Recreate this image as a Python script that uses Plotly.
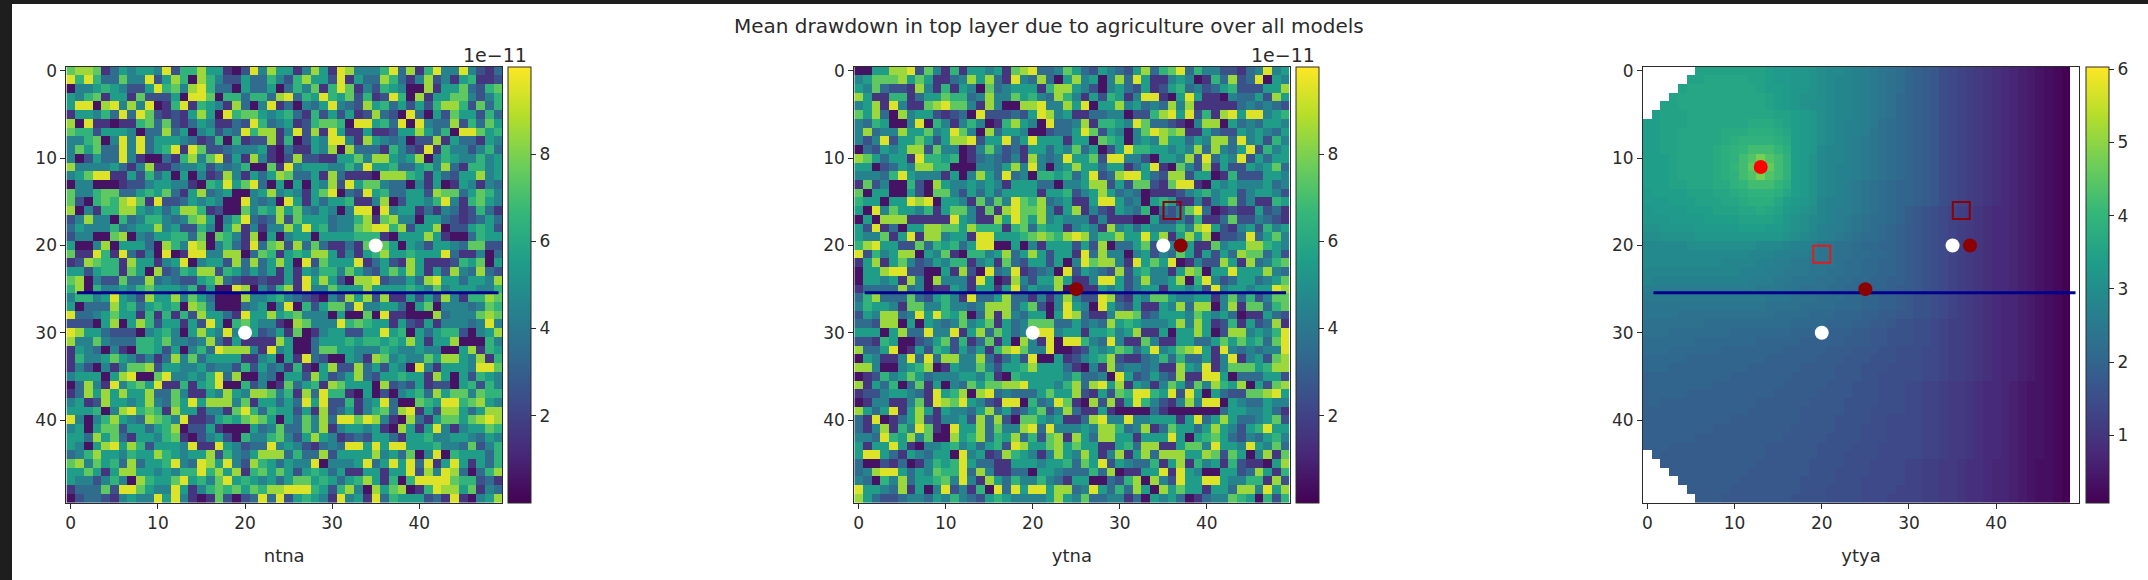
import plotly.graph_objects as go

# Cell values (units of 1e-11, one digit per cell).
ntna_rows = [
"7887135455 4926685510 2948551485 1984446938 1694494213",
"9696337449 2586086422 5336426855 2915338631 4824156112",
"0445654225 9674896330 5335036471 6971426540 0815573267",
"5467155172 2250997066 3663893659 6572612960 8155774246",
"5990894849 0169165418 3049130435 9432856352 5268862736",
"1554639397 2121585096 7754563162 5251283209 3052755263",
"8091101167 3721354113 2963451267 7609956390 9433826375",
"7662555403 3835045243 9688149281 9511511255 8536099756",
"4467049493 5554312606 1228160254 9941854340 2281533154",
"4757339493 5691972234 4451031154 8083331642 1916442463",
"4025339410 0316847925 1841028221 1557488545 8046544645",
"8444453148 1134452434 6007194555 4464955633 5648316645",
"4579911526 3505041284 1535873351 8311108886 5153255845",
"0440001224 5544106595 7930505054 8295774330 4150154143",
"7446773356 5731583450 0458454157 9032956335 5287735764",
"7206768971 9223545400 9434095153 5561148025 5469416754",
"8041668854 5358861200 7465857435 4049909455 1314312631",
"2484406346 6434785046 9323827555 3446817844 0553212353",
"3544463455 8452264058 1414485956 3447899682 5580225652",
"2440078043 5566370764 1805045505 5556661055 5851003655",
"5004805553 0864980463 1937828373 1131777505 4255437722",
"7119619314 0901994488 0376156588 5141568556 5559311403",
"1287661855 1459045528 3835850927 5559135218 5111265705",
"5525661750 8236588265 3535151546 6475325758 5152843832",
"7804227338 3432256832 1121151958 5208892335 3895535548",
"6806445467 5554615009 8042681944 7555855556 5474555446",
"4664595428 5584753000 8445643210 4285828115 2528416687",
"5033385635 6560874000 3450490625 7739445530 5704443476",
"9334575516 1616285531 9558567444 0500709110 0083444787",
"2220580586 2551529506 7544108744 4967655152 1514443494",
"9855322204 5640585494 4523517014 5522559560 5356620458",
"8447433366 5744348315 1111850035 5565665658 5155800064",
"1543041066 5250463988 8419450037 7554446544 5440058165",
"1644575424 1384735555 1145051932 0054187454 4758854816",
"1420414778 2554453442 6253416105 8228352540 9415554997",
"4555058900 7944546938 0043055285 2358325565 5185052654",
"0384194675 9116156900 6240173561 8755508232 5122056264",
"1385858558 3374115485 4887461839 6610502045 6385774766",
"4512855458 4375958884 7155353959 2261459300 7659967854",
"5556048967 6185514417 9636552518 2351467389 1528853588",
"9404685438 7649112565 7875053748 3997984108 3157757898",
"4505772553 5680225100 0534733748 1455451085 1594145576",
"5538573155 4671024520 6446742585 4123255315 5644554354",
"5405895862 5554911954 2339454213 4399595995 5564437246",
"3468554655 8654558264 3588836338 2555584537 0490655536",
"7847563835 5694398594 2865354490 4445935959 3915951536",
"5575158855 4546696858 1675752565 3511551559 2849830368",
"5442464086 5579564795 6545357756 5356851606 9999766231",
"1333729975 4495146767 5768899965 2684085780 1698857143",
"0233214544 9594101720 2393925654 1945193655 5231910458",
]

ytna_rows = [
"0055889274 1615545178 9334753254 3258367936 4422134945",
"4577785751 1348583194 3830584504 8395114540 1638239054",
"5473221841 6154073455 5168854204 5325125634 2356222558",
"8511661355 7663484475 6438641526 5149910595 1104335285",
"4581941178 9774184008 8944859055 8453438481 1111343432",
"7583084552 1230922232 5984511334 4022689592 6189599456",
"4365004906 4146401685 4093348166 5497332104 8805343554",
"4834485574 5974083554 0023359725 4047987811 5322545435",
"4249255752 5889255935 9555155076 5045485535 4883945264",
"0325458827 4401474231 5535473502 5966554548 3843592645",
"8753551966 5601343241 8434955729 9442055482 9354925355",
"5502354886 6000443584 9404585535 5135910742 8152254573",
"4443695444 1504853934 0665635923 8995328825 5016222554",
"1724006208 5445454155 5330445882 5277217991 0545444534",
"7055005207 7425353555 5155624585 3430111245 6455245542",
"6550559890 5541737497 6834511599 5340565114 1457241165",
"5094755461 5774171897 7841581421 5436032479 3012115231",
"0508881111 1954118597 5845444141 1100522426 1137224321",
"5291305588 7758666167 3655145418 4535444648 9521452645",
"5447159188 4551995556 7876898466 8559581585 8022393574",
"6895522736 5635990050 4155525280 3357274151 1745588654",
"9264588054 7106645835 8525519384 4045243751 5253877352",
"1581574235 4661451732 5525049788 4195759014 2285183467",
"0558992200 5182093491 2340925432 8256441587 0559555843",
"0554518408 4441950184 2558511499 5248445806 9423553457",
"1333383401 1541551593 5448041154 5245515545 2945545598",
"3683337325 6419335833 1414842298 2154775445 5147362477",
"4655417744 6443488835 7204954095 3251154838 8048177367",
"2548834959 6570381843 5505983114 8872355547 5453011532",
"3328805054 3474571534 7773353438 5654445848 5126152381",
"5550583394 4915837534 4994551556 4581150558 5028845469",
"2216500235 7261371508 4190996439 4117411553 3575756379",
"8335901526 5253516897 4490012545 7635945789 5194343449",
"0541149393 8844831352 9005124568 2113463633 5149145278",
"8840045680 1544742556 8555310418 3443411854 9147775688",
"0126457534 4455461065 5555463340 9523532811 9950333552",
"8153603715 0437577889 5554683895 8154147527 4865805278",
"1224554319 5680893433 3575582152 7699659295 0532277895",
"0144114719 8795421990 6349710828 1596421484 9905433544",
"8535915851 5443583523 5724831151 0000310000 0035544531",
"3190135821 4452838207 7545113894 4944555159 3585334572",
"3148164971 0955837448 9394445488 6348137553 5854256955",
"4439658470 0856836583 6278185388 5515559505 6753243564",
"5155951044 5645356298 5578575511 5638811577 4955495473",
"5995315435 5094512865 4148548514 8158388855 8727504817",
"3002130146 5695331155 5455637592 5433615816 4516211058",
"3489953547 6693841133 0554333638 0115591954 0055238516",
"4306483556 7494185364 4643155003 2680842955 9954466182",
"9554381504 9241609395 9958834953 6385085755 1553884958",
"8532234435 4643256544 4458547334 4130545301 3447650626",
]

# One character per cell: index in this alphabet = value in tenths; "." is an empty cell.
ALPHABET = "0123456789abcdefghijklmnopqrstuvwxyzABCDEFGHIJKLMNOPQRSTUVWXY"
ytya_rows = [
"......zzzz zzzzyxxwwv uttsrqponm kjihfedcba 987654321.",
".....zzAAA AAzzyxxwwv utssrqponm kjihfedcba 987654321.",
"....zAAAAA AAAzyyxwwv utssrqponm kjihfedcba 987654321.",
"...zAAAAAA AAAAzyxwvv utssrqponl kjihfedcba 987654321.",
"..zzAAAAAA AAAAzyxwvu utssrqponl kjihfedcba 987654321.",
".yzzzAAAAA AAAAAzzyxw utssrqponl kjihfedcba 987654321.",
"yyzzzAAAAA AABBBAzyxw utsrrqpnml kjihfedcba 987654321.",
"yyzzAAAAAB BBCCCBAyxw utsrrqonml kjihfedcba 987654321.",
"yyzzAAAAAB CDDDDCByxw utsrqponml kjihfedcba 987654321.",
"yyzzAAAABC DEGGGECyxw tssrqponml kjihfedcba 987654321.",
"yyyzAAAABC DGIMIGDyxv tssrqponml kjihfedcba 987654321.",
"yyyzAAAABC EGKYKGDyxv tsrrqponml kjihfedcba 987654321.",
"yyyzAAAABC DGIMIGDyxv tsrrqponml kjihfedcba 987654321.",
"yyyzzAAABB DEGGGECyxv tsrqponmlk kjihfedcba 987654321.",
"xyyyyzzzAA BCDDDCAyxv tsrqponmlk kjihfedcba 987654321.",
"xxxyyyzzzA ABCCCAyxwv srrqponmlk kjihfedcba 987654321.",
"wxxxxyyyzz zAABAzxwvu srqqponmlk ihgfedcba9 887654321.",
"wwwxxxxyyy yzzzzywvut srqponmmlk ihgfedcba9 887654321.",
"vvwwwwxxxx xyyyxxwvut rqqponmlkj ihgfedcba9 887654321.",
"uuvvvvwwww wwwwwwvuts rqponmmlkj ihgfedcba9 887654321.",
"tttttuuuuu uuutttsrrq oonnmllkkj ihgfedcba9 887654321.",
"tttttttttt ttsssrrqqp oonnmmllkj ihgfedcba9 887654321.",
"ttttttttts sssrrqqppo oonmmllkkj ihgfedcba9 887654321.",
"ssssssssss srrrqqpppo onnmmllkkj ihgfedcba9 887654321.",
"srrrrrrrrr rrqqqppooo nnmmllkkjj ihgfedcba9 887654321.",
"qqqqqqqqqq qqqpppoonn nmmlllkkji ihgfedcba9 887654321.",
"pppppppppp ppppooonnn mmmllkkjji hggfedcba9 877654321.",
"oooooooooo oooonnnnmm mmlllkkjji hggfedcba9 877654321.",
"oooonnnnnn nnnnnmmmml llkkkjjiih hggfedcba9 877654321.",
"nnnnnnnmmm mmmmmmmlll lkkkjjiihg gffedccba9 877654321.",
"nnnmmmmmmm lllllllkkk kjjjiihhgg gffedccba9 877654321.",
"mmmmmmllll lllkkkkkjj jjjiiihhgg gffedccba9 877654321.",
"mmmllllllk kkkkkkjjjj jiiihhhggf ffeedccba9 877654321.",
"lllllkkkkk kkkkjjjjjj iiihhhgggf ffeedccba9 877654321.",
"lllkkkkkkk kkjjjjjjii iihhhgggff ffeedccba9 877654321.",
"kkkkkkkkkk jjjjjjjiii iihhhggfff ffeedccba9 877654321.",
"kkkkkkkkjj jjjjjjiiii ihhhgggfff eeddcbba98 876544321.",
"kkkkkjjjjj jjjjjiiiii hhhhgggfff eeddcbba98 876544321.",
"kkjjjjjjjj jjjiiiiiih hhhggggfff eeddcbba98 876544321.",
"jjjjjjjjjj jjiiiiiihh hhhgggffff eeddcbba98 876544321.",
"jjjjjjjjjj iiiiiiiihh hhggggffee eeddcbba98 876544321.",
"jjjjjjjjii iiiiiiihhh hhgggfffee eeddcbba98 876544321.",
"jjjjjjiiii iiiiiihhhh hggggfffee eeddcbba98 876544321.",
"jjjiiiiiii iiiihhhhhh ggggfffeee eeddcbba98 876544321.",
".jiiiiiiii iiiihhhhhh gggffffeee eeddcbba98 876544321.",
"..iiiiiiii iiihhhhhhg gggfffeeee ddccbba998 776543321.",
"...iiiiiii iihhhhhhhg ggffffeeee ddccbba998 776543321.",
"....iiiiii ihhhhhhhgg ggfffeeeee ddccbba998 776543321.",
".....iiiii hhhhhhhhgg gffffeeeed ddccbba998 776543321.",
"......iiih hhhhhhhggg gffffeeedd ddccbba998 776543321.",
]

panel_names = ["ntna", "ytna", "ytya"]
axis_ticks = [0, 10, 20, 30, 40]
bar_ticks_noise = [2, 4, 6, 8]
bar_ticks_ytya = [1, 2, 3, 4, 5, 6]
title_text = "Mean drawdown in top layer due to agriculture over all models"
exponent_text = "1e\u221211"

section_x = [0.7, 49.1]
section_y = [25.4, 25.4]
white_x = [35, 20]
white_y = [20, 30]
darkred_x = [37, 25]
darkred_y = [20, 25]
red_x = [13]
red_y = [11]
sq_dark_x = [36]
sq_dark_y = [16]
sq_red_x = [20]
sq_red_y = [21]

W, H = 2148, 580
AX_TOP, AX_BOT = 66.6, 503.0
AX_LEFT = [66.4, 854.3, 1643.0]
AX_RIGHT = [502.0, 1289.5, 2079.0]
CB_LEFT = [508.0, 1296.0, 2086.0]
CB_W = 23
FONT = "DejaVu Sans"
INK = "#2b2b2b"
TICK_SIZE = 17


def parse_digits(rows):
    out = []
    for r in rows:
        s = r.replace(" ", "")
        assert len(s) == 50, r
        out.append([int(c) + 0.5 for c in s])
    assert len(out) == 50
    return out


def parse_alpha(rows):
    out = []
    for r in rows:
        s = r.replace(" ", "")
        assert len(s) == 50, r
        out.append([None if c == "." else ALPHABET.index(c) / 10 for c in s])
    assert len(out) == 50
    return out


grids = [parse_digits(ntna_rows), parse_digits(ytna_rows), parse_alpha(ytya_rows)]
ranges = [(0, 10), (0, 10), (0.08, 6.03)]
bar_ticks = [bar_ticks_noise, bar_ticks_noise, bar_ticks_ytya]

fig = go.Figure()
cells = list(range(50))

for i in range(3):
    sfx = "" if i == 0 else str(i + 1)
    fig.add_trace(go.Heatmap(
        z=grids[i], x=cells, y=cells, xaxis="x" + sfx, yaxis="y" + sfx,
        colorscale="Viridis", zmin=ranges[i][0], zmax=ranges[i][1],
        hoverongaps=False,
        colorbar=dict(
            x=CB_LEFT[i] / W, xanchor="left", xpad=0, ypad=0,
            y=1 - (AX_TOP + AX_BOT) / 2 / H, yanchor="middle",
            lenmode="pixels", len=AX_BOT - AX_TOP,
            thicknessmode="pixels", thickness=CB_W,
            tickvals=bar_ticks[i], ticks="outside", ticklen=5, tickwidth=1,
            tickcolor=INK, tickfont=dict(family=FONT, size=TICK_SIZE, color=INK),
            outlinecolor=INK, outlinewidth=1,
        ),
    ))
    layout_ax = dict(
        anchor="y" + sfx, domain=[AX_LEFT[i] / W, AX_RIGHT[i] / W],
        range=[-0.5, 49.5], tickvals=axis_ticks, ticks="outside", ticklen=5,
        tickcolor=INK, tickfont=dict(family=FONT, size=TICK_SIZE, color=INK),
        showgrid=False, zeroline=False, showline=True, linecolor=INK, linewidth=1, mirror=True,
        title=dict(text=panel_names[i], font=dict(family=FONT, size=18, color=INK), standoff=16),
        automargin=False,
    )
    layout_ay = dict(
        anchor="x" + sfx, domain=[1 - AX_BOT / H, 1 - AX_TOP / H],
        range=[49.5, -0.5], tickvals=axis_ticks, ticks="outside", ticklen=5,
        tickcolor=INK, tickfont=dict(family=FONT, size=TICK_SIZE, color=INK),
        showgrid=False, zeroline=False, showline=True, linecolor=INK, linewidth=1, mirror=True,
        automargin=False,
    )
    fig.update_layout({"xaxis" + sfx: layout_ax, "yaxis" + sfx: layout_ay})

    fig.add_trace(go.Scatter(x=section_x, y=section_y, xaxis="x" + sfx, yaxis="y" + sfx, mode="lines",
                             line=dict(color="#00008b", width=3), showlegend=False))
    fig.add_trace(go.Scatter(x=white_x, y=white_y, xaxis="x" + sfx, yaxis="y" + sfx, mode="markers",
                             marker=dict(color="white", size=14), showlegend=False))
    if i >= 1:
        fig.add_trace(go.Scatter(x=darkred_x, y=darkred_y, xaxis="x" + sfx, yaxis="y" + sfx, mode="markers",
                                 marker=dict(color="#8b0000", size=14), showlegend=False))
        fig.add_trace(go.Scatter(x=sq_dark_x, y=sq_dark_y, xaxis="x" + sfx, yaxis="y" + sfx, mode="markers",
                                 marker=dict(symbol="square-open", color="#8b0000", size=17, line=dict(width=2)),
                                 showlegend=False))
    if i == 2:
        fig.add_trace(go.Scatter(x=red_x, y=red_y, xaxis="x" + sfx, yaxis="y" + sfx, mode="markers",
                                 marker=dict(color="#ff0000", size=14), showlegend=False))
        fig.add_trace(go.Scatter(x=sq_red_x, y=sq_red_y, xaxis="x" + sfx, yaxis="y" + sfx, mode="markers",
                                 marker=dict(symbol="square-open", color="#e41a1c", size=17, line=dict(width=2)),
                                 showlegend=False))

annotations = [
    dict(text=title_text, xref="paper", yref="paper", x=1049 / W, y=1 - 26 / H,
         showarrow=False, xanchor="center", yanchor="middle",
         font=dict(family=FONT, size=20, color=INK)),
]
for cx in (495, 1283):
    annotations.append(dict(text=exponent_text, xref="paper", yref="paper", x=cx / W, y=1 - 55 / H,
                            showarrow=False, xanchor="center", yanchor="middle",
                            font=dict(family=FONT, size=19, color=INK)))

shapes = [
    dict(type="rect", xref="paper", yref="paper", x0=0, x1=12 / W, y0=0, y1=1,
         fillcolor="#1e1e1e", line=dict(width=0), layer="above"),
    dict(type="rect", xref="paper", yref="paper", x0=0, x1=1, y0=1 - 4 / H, y1=1,
         fillcolor="#1e1e1e", line=dict(width=0), layer="above"),
]

fig.update_layout(
    width=W, height=H, margin=dict(l=0, r=0, t=0, b=0),
    paper_bgcolor="white", plot_bgcolor="white",
    annotations=annotations, shapes=shapes, showlegend=False,
    font=dict(family=FONT, size=TICK_SIZE, color=INK),
)

fig.write_html("out.html", config={"displayModeBar": False},
               post_script="document.body.style.margin='0';document.documentElement.style.overflow='hidden';")
